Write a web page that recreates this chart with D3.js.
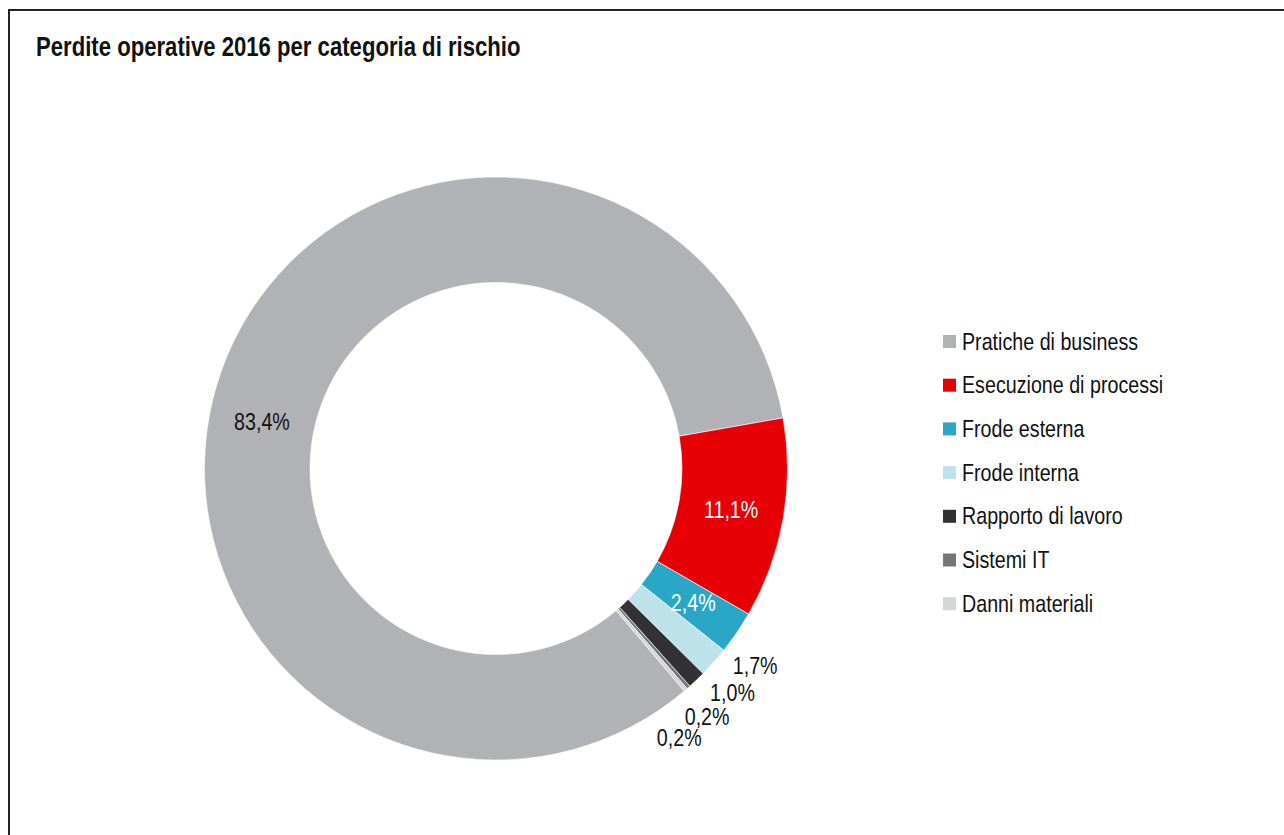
<!DOCTYPE html>
<html>
<head>
<meta charset="utf-8">
<script src="https://cdn.jsdelivr.net/npm/d3@7"></script>
<style>
  html, body { margin: 0; padding: 0; background: #fff; }
  svg { display: block; }
  text { font-family: 'Liberation Sans', Arial, sans-serif; }
</style>
</head>
<body>
<svg id="chart" width="1284" height="835"></svg>
<script>
// ---- data ----
const title = "Perdite operative 2016 per categoria di rischio";
const categories = ["Pratiche di business", "Esecuzione di processi", "Frode esterna", "Frode interna", "Rapporto di lavoro", "Sistemi IT", "Danni materiali"];
const values = [83.4, 11.1, 2.4, 1.7, 1.0, 0.2, 0.2];
const labels = ["83,4%", "11,1%", "2,4%", "1,7%", "1,0%", "0,2%", "0,2%"];
const colors = ["#b1b2b6", "#e60005", "#2aa7c6", "#bde2ea", "#343136", "#76757a", "#d4d5d9"];
const labelColors = ["#111", "#fff", "#fff", "#111", "#111", "#111", "#111"];

// ---- layout ----
const svg = d3.select("#chart");
const cx = 496, cy = 468.5, rOuter = 291.5, rInner = 186;
const deg = Math.PI / 180;
const narrow = 0.82; // emulate a condensed (Arial Narrow-like) face
const firstSliceStart = 80 * deg - (values[0] / 100) * 2 * Math.PI;

function ntext(sel, x, y, size, str, opts = {}) {
  const t = sel.append("text")
    .attr("transform", `translate(${x},${y}) scale(${narrow},1)`)
    .attr("font-size", size).attr("fill", opts.fill || "#111")
    .text(str);
  if (opts.anchor) t.attr("text-anchor", opts.anchor);
  if (opts.baseline) t.attr("dominant-baseline", opts.baseline);
  if (opts.weight) t.attr("font-weight", opts.weight);
  return t;
}

// frame
svg.append("rect").attr("x", 9).attr("y", 10).attr("width", 1290).attr("height", 840)
  .attr("fill", "none").attr("stroke", "#222").attr("stroke-width", 2);

ntext(svg, 36, 56, 27, title, { weight: "bold" });

const pie = d3.pie().sort(null).value(d => d)
  .startAngle(firstSliceStart).endAngle(firstSliceStart + 2 * Math.PI);
const arcs = pie(values);
const arc = d3.arc().innerRadius(rInner).outerRadius(rOuter);

const g = svg.append("g").attr("transform", `translate(${cx},${cy})`);
g.selectAll("path").data(arcs).join("path")
  .attr("d", arc)
  .attr("fill", (d, i) => colors[i])
  .attr("stroke", "#fff").attr("stroke-width", 0.6);

const inside = arcs.map(a => (a.value >= 2));
const mid = a => (a.startAngle + a.endAngle) / 2;

// inside labels at ring middle; the big slice's label nudged back along the ring
arcs.forEach((a, i) => {
  if (!inside[i]) return;
  let ang = mid(a);
  if (i === 0) ang -= 8.5 * deg;
  const r = (rInner + rOuter) / 2;
  ntext(g, r * Math.sin(ang), -r * Math.cos(ang), 24, labels[i],
    { anchor: "middle", baseline: "central", fill: labelColors[i] });
});

// outside labels spread evenly around their common mean angle
const outIdx = arcs.map((a, i) => i).filter(i => !inside[i]);
const sep = 6.15 * deg;
const meanAng = d3.mean(outIdx, i => mid(arcs[i]));
const rLab = 326;
outIdx.forEach((i, k) => {
  const ang = meanAng + (k - (outIdx.length - 1) / 2) * sep;
  ntext(g, rLab * Math.sin(ang), -rLab * Math.cos(ang), 24, labels[i],
    { anchor: "middle", baseline: "central", fill: labelColors[i] });
});

// legend
const legend = svg.append("g").attr("transform", "translate(943,335)");
const rowH = 43.7;
categories.forEach((c, i) => {
  const row = legend.append("g").attr("transform", `translate(0,${i * rowH})`);
  row.append("rect").attr("width", 13).attr("height", 13).attr("fill", colors[i]);
  ntext(row, 19, 14.5, 24, c);
});
</script>
</body>
</html>
